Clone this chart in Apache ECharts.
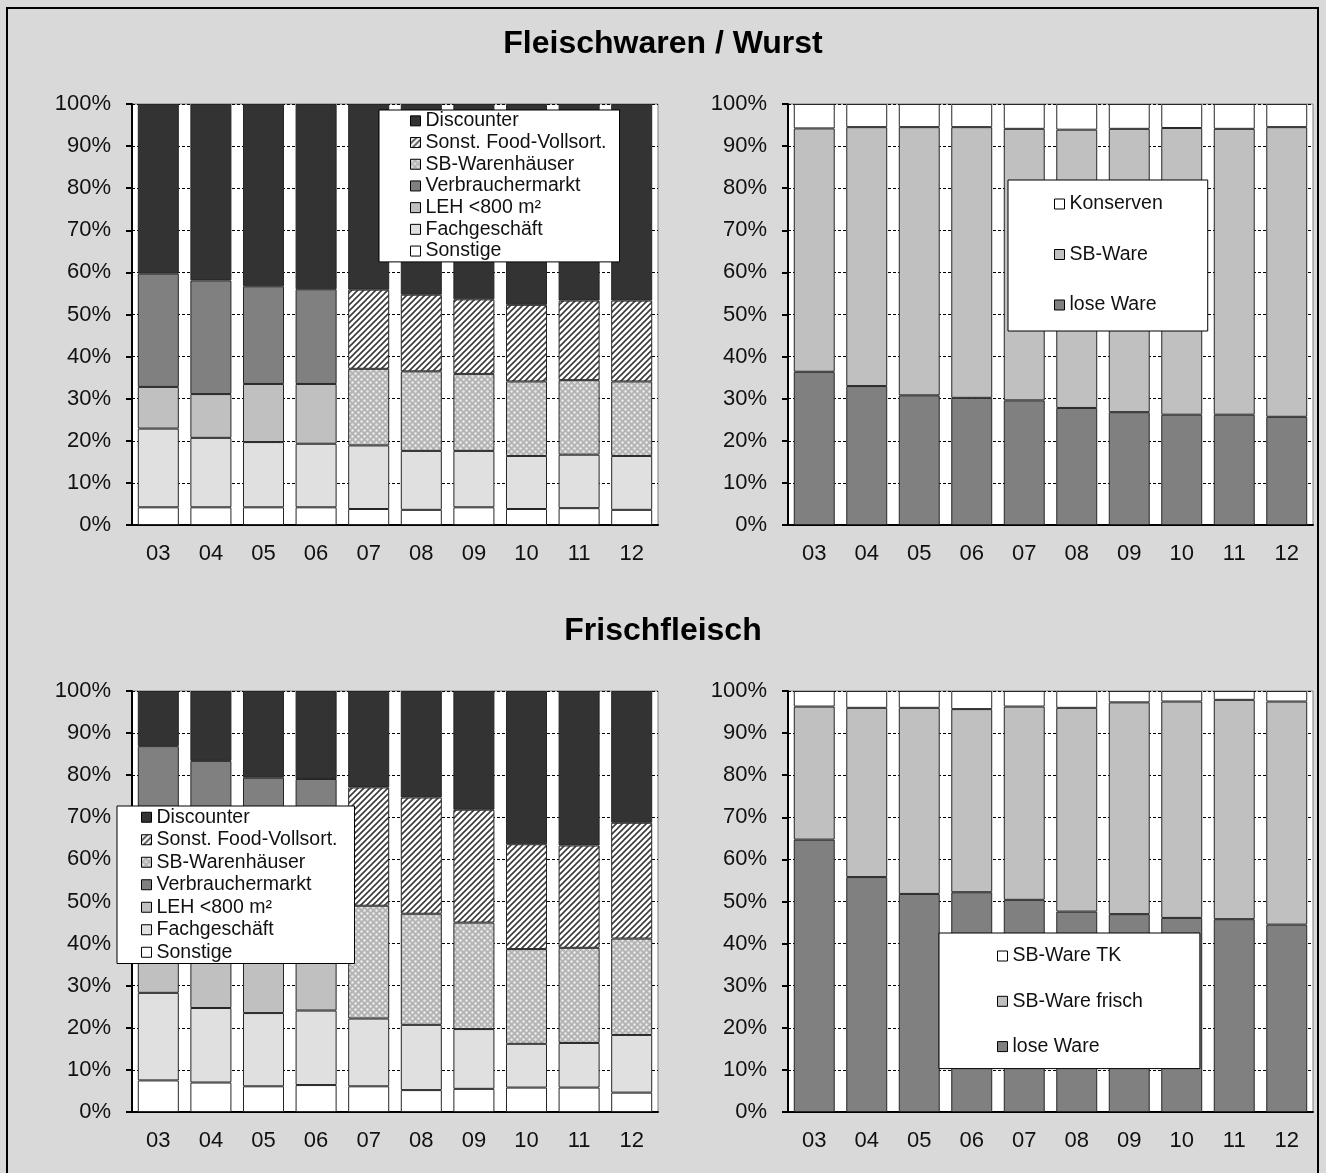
<!DOCTYPE html>
<html>
<head>
<meta charset="utf-8">
<script src="https://cdn.jsdelivr.net/npm/echarts@6/dist/echarts.min.js"></script>
<style>
  html, body { margin: 0; padding: 0; background: #d9d9d9; }
  #chart { width: 1326px; height: 1173px; }
</style>
</head>
<body>
<div id="chart"></div>
<script>
// Jahre (x-Achse)
const years = ['03', '04', '05', '06', '07', '08', '09', '10', '11', '12'];

// Fleischwaren / Wurst – Einkaufsstätten (Anteile in %)
const wurstSonstige      = [4.2, 4.2, 4.2, 4.2, 3.8, 3.6, 4.2, 3.8, 4.0, 3.6];
const wurstFachgeschaeft = [18.7, 16.5, 15.5, 15.1, 15.1, 14.0, 13.4, 12.6, 12.7, 12.8];
const wurstLEH           = [9.9, 10.4, 13.8, 14.2, null, null, null, null, null, null];
const wurstVerbraucherm  = [26.9, 27.0, 23.2, 22.5, null, null, null, null, null, null];
const wurstSBWarenh      = [null, null, null, null, 18.2, 18.9, 18.3, 17.7, 17.7, 17.7];
const wurstFoodVollsort  = [null, null, null, null, 18.8, 18.2, 17.7, 18.2, 18.9, 19.2];
const wurstDiscounter    = [40.3, 41.9, 43.3, 44.0, 44.1, 45.3, 46.4, 47.7, 46.7, 46.7];

// Fleischwaren / Wurst – Angebotsform (Anteile in %)
const wurstLose      = [36.4, 33.0, 30.8, 30.2, 29.6, 27.8, 26.8, 26.2, 26.2, 25.7];
const wurstSBWare    = [57.8, 61.5, 63.7, 64.3, 64.5, 66.1, 67.3, 68.1, 67.9, 68.8];
const wurstKonserven = [5.8, 5.5, 5.5, 5.5, 5.9, 6.1, 5.9, 5.7, 5.9, 5.5];

// Frischfleisch – Einkaufsstätten (Anteile in %)
const fleischSonstige      = [7.5, 7.0, 6.1, 6.4, 6.1, 5.2, 5.5, 5.8, 5.8, 4.6];
const fleischFachgeschaeft = [20.8, 17.7, 17.4, 17.7, 16.1, 15.5, 14.2, 10.4, 10.6, 13.7];
const fleischLEH           = [11.7, 12.3, 13.5, 13.9, null, null, null, null, null, null];
const fleischVerbraucherm  = [46.9, 46.4, 42.4, 41.1, null, null, null, null, null, null];
const fleischSBWarenh      = [null, null, null, null, 26.8, 26.4, 25.3, 22.5, 22.6, 22.9];
const fleischFoodVollsort  = [null, null, null, null, 28.1, 27.6, 26.8, 24.9, 24.3, 27.5];
const fleischDiscounter    = [13.1, 16.6, 20.6, 20.9, 22.9, 25.3, 28.2, 36.4, 36.7, 31.3];

// Frischfleisch – Angebotsform (Anteile in %)
const fleischLose     = [64.7, 55.8, 51.8, 52.2, 50.4, 47.6, 47.0, 46.1, 45.8, 44.5];
const fleischFrisch   = [31.6, 40.2, 44.2, 43.5, 45.9, 48.4, 50.3, 51.4, 52.1, 53.0];
const fleischTK       = [3.7, 4.0, 4.0, 4.3, 3.7, 4.0, 2.7, 2.5, 2.1, 2.5];

const shopLegend = ['Discounter', 'Sonst. Food-Vollsort.', 'SB-Warenhäuser', 'Verbrauchermarkt',
                    'LEH <800 m²', 'Fachgeschäft', 'Sonstige'];

// Schraffur (diagonal) für Sonst. Food-Vollsortimenter
function hatchFill() {
  const s = 6;
  const c = document.createElement('canvas');
  c.width = s; c.height = s;
  const g = c.getContext('2d');
  g.fillStyle = '#ffffff';
  g.fillRect(0, 0, s, s);
  g.strokeStyle = '#3a3a3a';
  g.lineWidth = 1.6;
  g.beginPath();
  g.moveTo(0, s); g.lineTo(s, 0);
  g.moveTo(-1, 1); g.lineTo(1, -1);
  g.moveTo(s - 1, s + 1); g.lineTo(s + 1, s - 1);
  g.stroke();
  return { image: c, repeat: 'repeat' };
}

// Punktraster für SB-Warenhäuser
function dotFill() {
  const s = 6;
  const c = document.createElement('canvas');
  c.width = s; c.height = s;
  const g = c.getContext('2d');
  g.fillStyle = '#b4b4b4';
  g.fillRect(0, 0, s, s);
  g.fillStyle = '#ececec';
  [[1.5, 1.5], [4.5, 4.5]].forEach(function (p) {
    g.beginPath();
    g.arc(p[0], p[1], 1.25, 0, Math.PI * 2);
    g.fill();
  });
  return { image: c, repeat: 'repeat' };
}

const HATCH = hatchFill();
const DOTS = dotFill();

const FONT = "'Liberation Sans', Arial, sans-serif";

function bar(name, data, fill, idx) {
  return {
    type: 'bar',
    name: name,
    data: data,
    stack: 'total' + idx,
    xAxisIndex: idx,
    yAxisIndex: idx,
    barCategoryGap: '22%',
    itemStyle: { color: fill, borderColor: '#262626', borderWidth: 1 },
    emphasis: { disabled: true },
    silent: true
  };
}

function shopSeries(idx, d) {
  return [
    bar('Sonstige', d[0], '#ffffff', idx),
    bar('Fachgeschäft', d[1], '#e0e0e0', idx),
    bar('LEH <800 m²', d[2], '#c0c0c0', idx),
    bar('Verbrauchermarkt', d[3], '#808080', idx),
    bar('SB-Warenhäuser', d[4], DOTS, idx),
    bar('Sonst. Food-Vollsort.', d[5], HATCH, idx),
    bar('Discounter', d[6], '#333333', idx)
  ];
}

const grids = [
  { left: 132, top: 104, width: 526, height: 421 },
  { left: 788, top: 104, width: 525, height: 421 },
  { left: 132, top: 691, width: 526, height: 421 },
  { left: 788, top: 691, width: 525, height: 421 }
].map(function (g) {
  return Object.assign({ show: true, backgroundColor: '#ffffff', borderColor: '#808080', borderWidth: 1 }, g);
});

const xAxes = [0, 1, 2, 3].map(function (i) {
  return {
    type: 'category',
    gridIndex: i,
    data: years,
    axisLine: { lineStyle: { color: '#000', width: 2 } },
    axisTick: { length: 6, lineStyle: { color: '#000', width: 2 } },
    axisLabel: { fontSize: 22, color: '#111', margin: 18, fontFamily: FONT }
  };
});

const yAxes = [0, 1, 2, 3].map(function (i) {
  return {
    type: 'value',
    gridIndex: i,
    min: 0,
    max: 100,
    interval: 10,
    axisLine: { show: true, lineStyle: { color: '#000', width: 2 } },
    axisTick: { show: true, length: 6, lineStyle: { color: '#000', width: 2 } },
    axisLabel: { formatter: '{value}%', fontSize: 22, color: '#111', margin: 21, fontFamily: FONT },
    splitLine: { show: true, lineStyle: { color: '#000', width: 1, type: [3, 2] } }
  };
});

function legend(pos, names, lineHeight, gap, padding) {
  return Object.assign({
    orient: 'vertical',
    align: 'left',
    icon: 'rect',
    itemWidth: 10,
    itemHeight: 10,
    itemGap: gap,
    padding: padding,
    backgroundColor: '#ffffff',
    borderColor: '#000',
    borderWidth: 1,
    selectedMode: false,
    data: names,
    itemStyle: { borderColor: '#000', borderWidth: 1 },
    textStyle: { fontSize: 19.5, lineHeight: lineHeight, color: '#111', fontFamily: FONT }
  }, pos);
}

const series = []
  .concat(shopSeries(0, [wurstSonstige, wurstFachgeschaeft, wurstLEH, wurstVerbraucherm,
                         wurstSBWarenh, wurstFoodVollsort, wurstDiscounter]))
  .concat([
    bar('lose Ware', wurstLose, '#808080', 1),
    bar('SB-Ware', wurstSBWare, '#c0c0c0', 1),
    bar('Konserven', wurstKonserven, '#ffffff', 1)
  ])
  .concat(shopSeries(2, [fleischSonstige, fleischFachgeschaeft, fleischLEH, fleischVerbraucherm,
                         fleischSBWarenh, fleischFoodVollsort, fleischDiscounter]))
  .concat([
    bar('lose Ware', fleischLose, '#808080', 3),
    bar('SB-Ware frisch', fleischFrisch, '#c0c0c0', 3),
    bar('SB-Ware TK', fleischTK, '#ffffff', 3)
  ]);

const chart = echarts.init(document.getElementById('chart'), null, { renderer: 'canvas' });
chart.setOption({
  animation: false,
  backgroundColor: '#d9d9d9',
  textStyle: { fontFamily: FONT },
  title: [
    { text: 'Fleischwaren / Wurst', left: 'center', top: 28, padding: 0,
      textStyle: { fontSize: 32, fontWeight: 'bold', color: '#000', fontFamily: FONT } },
    { text: 'Frischfleisch', left: 'center', top: 615, padding: 0,
      textStyle: { fontSize: 32, fontWeight: 'bold', color: '#000', fontFamily: FONT } }
  ],
  legend: [
    legend({ left: 379, top: 110 }, shopLegend, 21.7, 0, [0, 13, 0, 31]),
    legend({ left: 1008, top: 180 }, ['Konserven', 'SB-Ware', 'lose Ware'], 20, 30.5, [14, 45, 16, 46]),
    legend({ left: 117, top: 806 }, shopLegend, 22.5, 0, [0, 17, 0, 24]),
    legend({ left: 939, top: 933 }, ['SB-Ware TK', 'SB-Ware frisch', 'lose Ware'], 20, 25.3, [13, 57, 12, 58])
  ],
  grid: grids,
  xAxis: xAxes,
  yAxis: yAxes,
  series: series,
  graphic: [
    { type: 'rect', silent: true, z: 100,
      shape: { x: 7, y: 8, width: 1311, height: 1200 },
      style: { fill: 'none', stroke: '#000', lineWidth: 2 } }
  ]
});
</script>
</body>
</html>
